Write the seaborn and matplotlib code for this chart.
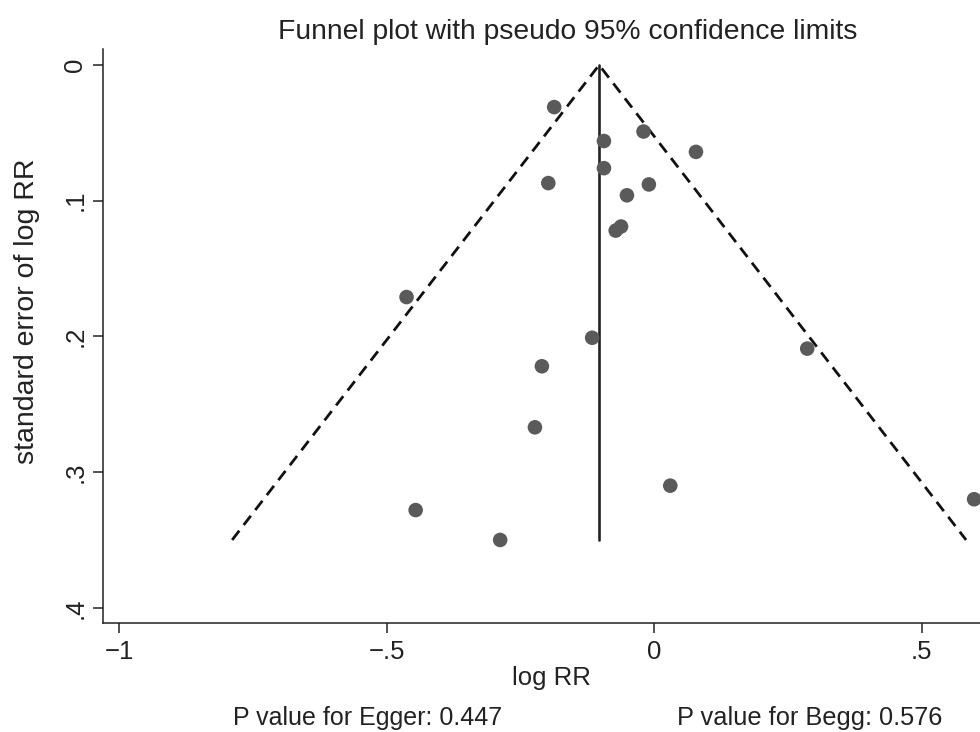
import matplotlib
matplotlib.use("Agg")
import matplotlib.pyplot as plt
import seaborn as sns
import pandas as pd

# ---- data ----
log_rr = [-0.187, -0.020, -0.094, 0.078, -0.094, -0.198, -0.010, -0.051, -0.062,
          -0.072, -0.463, -0.116, 0.286, -0.210, -0.223, 0.030, -0.446, -0.288, 0.598]
se_log_rr = [0.031, 0.049, 0.056, 0.064, 0.076, 0.087, 0.088, 0.096, 0.119,
             0.122, 0.171, 0.201, 0.209, 0.222, 0.267, 0.310, 0.328, 0.350, 0.320]

pooled = -0.103          # pooled log RR (vertical line)
se_max = 0.35            # funnel extends to this standard error
funnel_x = [pooled - 1.96 * se_max, pooled, pooled + 1.96 * se_max]
funnel_se = [se_max, 0.0, se_max]
vline_x = [pooled, pooled]
vline_se = [0.0, se_max]

x_ticks = [-1, -0.5, 0, 0.5]
x_ticklabels = ["\u22121", "\u2212.5", "0", ".5"]
y_ticks = [0, 0.1, 0.2, 0.3, 0.4]
y_ticklabels = ["0", ".1", ".2", ".3", ".4"]

title = "Funnel plot with pseudo 95% confidence limits"
xlabel = "log RR"
ylabel = "standard error of log RR"
egger_text = "P value for Egger: 0.447"
begg_text = "P value for Begg: 0.576"

# ---- style ----
sns.set_style("ticks")
plt.rcParams["font.family"] = ["Liberation Sans", "DejaVu Sans"]

W, H = 980, 732
fig = plt.figure(figsize=(W / 100, H / 100), dpi=100)
ax = fig.add_axes([102.7 / W, (H - 622.7) / H, 1 - 102.7 / W, (622.7 - 49.3) / H])

df = pd.DataFrame({"log_rr": log_rr, "se": se_log_rr})
funnel_df = pd.DataFrame({"x": funnel_x, "se": funnel_se})
vline_df = pd.DataFrame({"x": vline_x, "se": vline_se})

sns.lineplot(data=funnel_df, x="x", y="se", sort=False, ax=ax, color="#111111",
             linewidth=2.0, linestyle=(0, (4.2, 2.6)), estimator=None)
sns.lineplot(data=vline_df, x="x", y="se", sort=False, ax=ax, color="#222222",
             linewidth=1.9, estimator=None, orient="y")
sns.scatterplot(data=df, x="log_rr", y="se", ax=ax, color="#5a5a5a", s=110,
                edgecolor="none", linewidth=0, zorder=3, clip_on=False)

ax.set_xlim(-1.031, 0.609)
ax.set_ylim(0.411, -0.0116)

ax.set_xticks(x_ticks)
ax.set_xticklabels(x_ticklabels, fontsize=18.5)
ax.set_yticks(y_ticks)
ax.set_yticklabels(y_ticklabels, fontsize=18.5, rotation=90, va="center")
ax.tick_params(axis="both", length=7.2, width=1.1, color="#222222", labelcolor="#222222")
ax.tick_params(axis="x", pad=5)
ax.tick_params(axis="y", pad=4)

for s in ["top", "right"]:
    ax.spines[s].set_visible(False)
for s in ["left", "bottom"]:
    ax.spines[s].set_linewidth(1.1)
    ax.spines[s].set_color("#222222")

ax_w = W - 102.7
ax_h = 622.7 - 49.3
ax.set_xlabel(xlabel, fontsize=18.5, color="#222222")
ax.xaxis.set_label_coords((551 - 102.7) / ax_w, -(666 - 622.7) / ax_h)
ax.set_ylabel(ylabel, fontsize=20.5, color="#222222")
ax.yaxis.set_label_coords(-(102.7 - 40) / ax_w, (622.7 - 311) / ax_h)

fig.text(568 / W, 1 - 32 / H, title, fontsize=20.3, ha="center", va="center", color="#222222")
fig.text(233 / W, 1 - 718 / H, egger_text, fontsize=18, ha="left", va="center", color="#222222")
fig.text(677 / W, 1 - 718 / H, begg_text, fontsize=18.3, ha="left", va="center", color="#222222")

fig.savefig("out.png", dpi=100)
